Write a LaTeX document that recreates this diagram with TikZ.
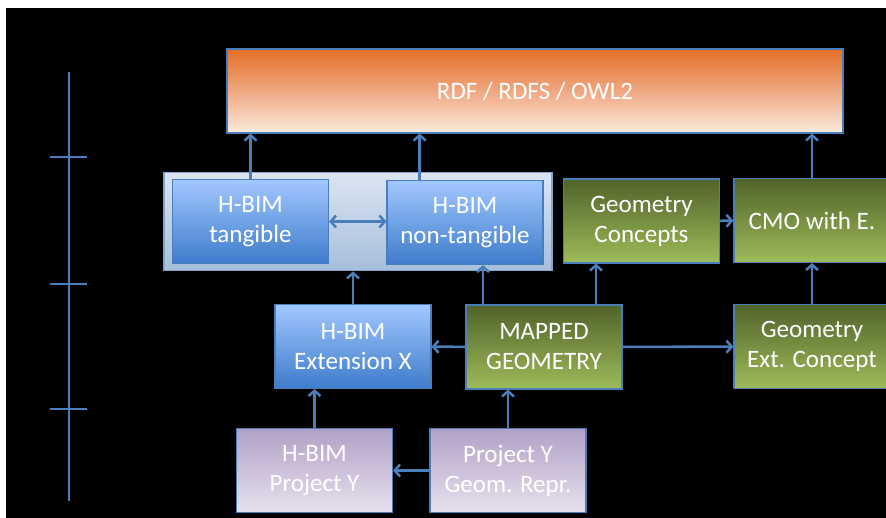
\documentclass[tikz,border=0pt]{standalone}
\usepackage{fontspec}
\setmainfont{Carlito}
\usetikzlibrary{arrows.meta}

\definecolor{linkblue}{RGB}{74,126,187}
\definecolor{rdftop}{RGB}{228,110,38}
\definecolor{rdfmid}{RGB}{239,168,130}
\definecolor{rdfbot}{RGB}{252,236,222}
\definecolor{bimtop}{RGB}{162,199,255}
\definecolor{bimbot}{RGB}{62,124,203}
\definecolor{geotop}{RGB}{80,99,42}
\definecolor{geobot}{RGB}{157,188,90}
\definecolor{prjtop}{RGB}{178,161,199}
\definecolor{prjbot}{RGB}{231,225,237}
\definecolor{grptop}{RGB}{219,229,241}
\definecolor{grpbot}{RGB}{166,190,220}

\begin{document}
\begin{tikzpicture}[x=0.75pt, y=-0.75pt, ->, >={Straight Barb[length=4pt,width=9pt]}, line width=1.9pt]
		\tikzstyle{box}=[draw=linkblue, line width=0.8pt, text=white, align=center, minimum width=117pt, minimum height=63pt, inner sep=2pt, font=\fontsize{18.8}{22.5}\selectfont]
		\tikzstyle{bluebox}=[box, top color=bimtop, bottom color=bimbot]
		\tikzstyle{greenbox}=[box, top color=geotop, bottom color=geobot]
		\tikzstyle{purplebox}=[box, top color=prjtop, bottom color=prjbot]

		\useasboundingbox (0,0) rectangle (886,518);
		\fill[white] (0,0) rectangle (886,518);
		\fill[black] (6,8) rectangle (886,518);

		% time line
		\draw[-, linkblue] (69,72) -- (69,501);
		\foreach \t in {157, 284, 409}
			\draw[-, linkblue] (50,\t) -- (87,\t);

		\node[box, top color=rdftop, bottom color=rdfbot, middle color=rdfmid, minimum width=462pt] at (535, 91) (R) {RDF / RDFS / OWL2};

		\node[draw=linkblue!70!white, line width=0.8pt, top color=grptop, bottom color=grpbot, minimum width=291pt, minimum height=74pt] at (358, 221.5) (C) {};
		\node[bluebox] at (250.5, 221.5) (T) {H-BIM\\tangible};
		\node[bluebox] at (465, 222.5) (N) {H-BIM\\non-tangible};
		\node[greenbox] at (641.5, 221) (GC) {Geometry\\Concepts};
		\node[greenbox] at (812, 220.5) (CMO) {CMO with E.};

		\node[bluebox] at (353, 346.5) (X) {H-BIM\\Extension X};
		\node[greenbox] at (544, 347) (M) {MAPPED\\GEOMETRY};
		\node[greenbox] at (812, 346.5) (GE) {Geometry\\Ext. Concept};

		\node[purplebox] at (314.5, 470.5) (P) {H-BIM\\Project Y};
		\node[purplebox] at (508, 470.5) (G) {Project Y\\Geom. Repr.};

		\coordinate (n1) at ([xshift=-34pt]N.north);
		\coordinate (m1) at ([xshift=-45.75pt]M.north);
		\coordinate (m2) at ([xshift=39pt]M.north);

		\path[linkblue]
		(T.north) edge (T.north |- R.south)
		(n1) edge (n1 |- R.south)
		(CMO.north) edge (CMO.north |- R.south)
		(T.east) edge[<->] (T.east -| N.west)
		(GC) edge (CMO)
		(GE) edge (CMO)
		(X.north) edge (X.north |- C.south)
		(m1) edge (m1 |- N.south)
		(m2) edge (m2 |- GC.south)
		(M) edge (X)
		(M) edge (GE)
		(P.north) edge (P.north |- X.south)
		(G.north) edge (G.north |- M.south)
		(G) edge (P);
\end{tikzpicture}
\end{document}
